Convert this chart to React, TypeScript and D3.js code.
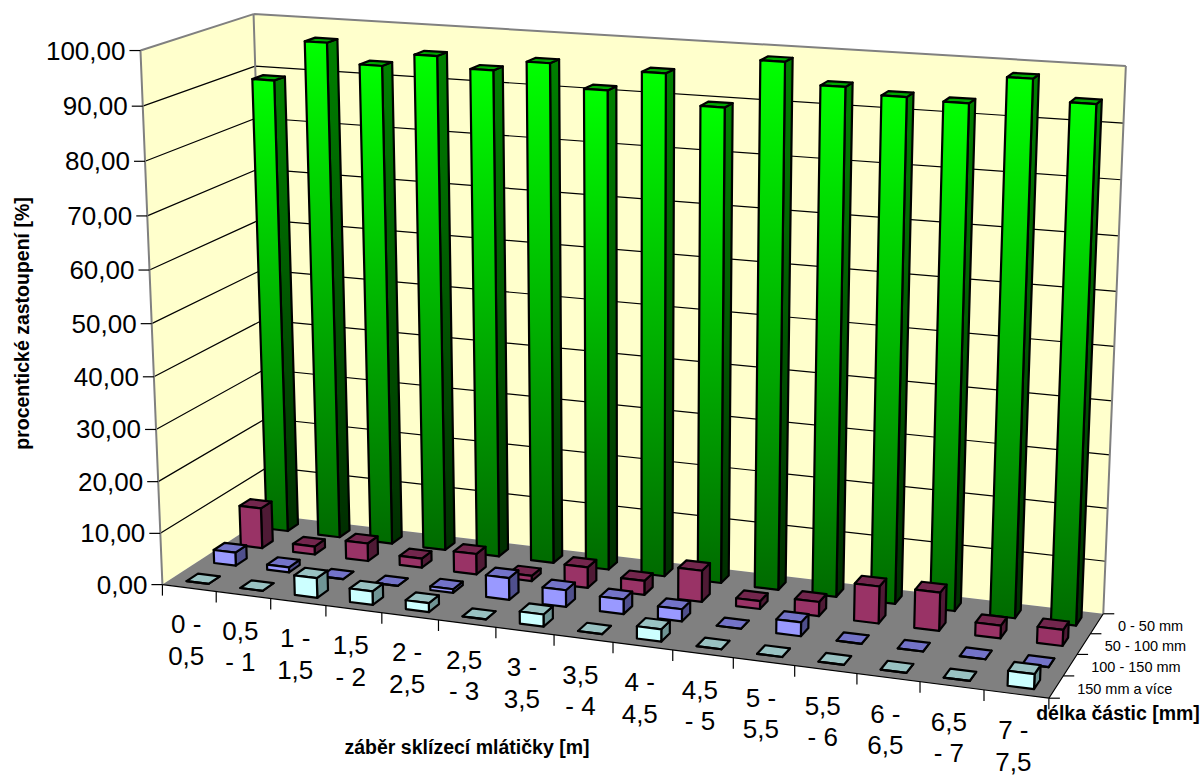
import React from "react";
import * as d3 from "d3";

// Swath sections along the harvester's cutting width, each label split on two lines
const categories: string[][] = [
  ["0 -", "0,5"], ["0,5", "- 1"], ["1 -", "1,5"], ["1,5", "- 2"], ["2 -", "2,5"],
  ["2,5", "- 3"], ["3 -", "3,5"], ["3,5", "- 4"], ["4 -", "4,5"], ["4,5", "- 5"],
  ["5 -", "5,5"], ["5,5", "- 6"], ["6 -", "6,5"], ["6,5", "- 7"], ["7 -", "7,5"],
];

// Particle-length classes, front row first
const seriesNames = ["150 mm a více", "100 - 150 mm", "50 - 100 mm", "0 - 50 mm"];

const over150 = [0, 0, 3.8, 2.6, 1.7, 0, 2.3, 0, 2.3, 0, 0, 0, 0, 0, 2.7];
const from100to150 = [2.6, 1, 0, 0, 0.7, 4.2, 3.2, 2.8, 2.3, 0, 2.6, 0, 0, 0, 0];
const from50to100 = [8, 1.6, 3.5, 1.8, 4, 1, 4, 2.7, 6, 1.5, 2.7, 7, 7.2, 2.4, 3];
const from0to50 = [89, 96.8, 93.1, 95.6, 93.6, 95.6, 91.3, 95.1, 89.6, 98.5, 94.7, 93.6, 93.2, 98.2, 94.5];

const rows = [over150, from100to150, from50to100, from0to50];

const valueTicks = d3.range(0, 101, 10);

const FONT = "'Liberation Sans', Arial, sans-serif";

type Vec3 = [number, number, number];
type Pt = [number, number];

// Reference points of the chart box: unit-cube corner -> page position
const boxAnchors: [Vec3, Pt][] = [
  [[0, 0, 0], [162, 585]],
  [[1, 0, 0], [1049, 698]],
  [[1, 1, 0], [1103, 614]],
  [[0, 1, 0], [270, 515]],
  [[0, 0, 1], [141, 51]],
  [[0, 1, 1], [253, 14]],
  [[1, 1, 1], [1126, 66]],
  [[0, 0, 0.5], [151.5, 323]],
];

// Least-squares fit of a 3x4 perspective camera with its last entry fixed to 1
function fitCamera(anchors: [Vec3, Pt][]): number[] {
  const n = 11;
  const ata = d3.range(n).map(() => new Array(n + 1).fill(0));
  const addRow = (r: number[], b: number) => {
    for (let i = 0; i < n; i++) {
      for (let j = 0; j < n; j++) ata[i][j] += r[i] * r[j];
      ata[i][n] += r[i] * b;
    }
  };
  for (const [[x, y, z], [px, py]] of anchors) {
    const u = px / 1000;
    const v = py / 1000;
    addRow([x, y, z, 1, 0, 0, 0, 0, -u * x, -u * y, -u * z], u);
    addRow([0, 0, 0, 0, x, y, z, 1, -v * x, -v * y, -v * z], v);
  }
  for (let c = 0; c < n; c++) {
    let pivot = c;
    for (let r = c + 1; r < n; r++) if (Math.abs(ata[r][c]) > Math.abs(ata[pivot][c])) pivot = r;
    [ata[c], ata[pivot]] = [ata[pivot], ata[c]];
    for (let r = 0; r < n; r++) {
      if (r === c) continue;
      const f = ata[r][c] / ata[c][c];
      for (let k = c; k <= n; k++) ata[r][k] -= f * ata[c][k];
    }
  }
  return d3.range(n).map((i) => ata[i][n] / ata[i][i]);
}

const cam = fitCamera(boxAnchors);

function toPage(x: number, y: number, z: number): Pt {
  const w = cam[8] * x + cam[9] * y + cam[10] * z + 1;
  return [
    (1000 * (cam[0] * x + cam[1] * y + cam[2] * z + cam[3])) / w,
    (1000 * (cam[4] * x + cam[5] * y + cam[6] * z + cam[7])) / w,
  ];
}

const xScale = d3.scaleLinear().domain([0, categories.length]).range([0, 1]);
const yScale = d3.scaleLinear().domain([0, seriesNames.length]).range([0, 1]);
const zScale = d3.scaleLinear().domain([0, 100]).range([0, 1]);

const project = (cat: number, row: number, value: number) =>
  toPage(xScale(cat), yScale(row), zScale(value));

const polygon = (pts: Pt[]) =>
  "M" + pts.map((p) => `${p[0].toFixed(2)},${p[1].toFixed(2)}`).join("L") + "Z";

const line = (a: Pt, b: Pt) => `M${a[0].toFixed(2)},${a[1].toFixed(2)}L${b[0].toFixed(2)},${b[1].toFixed(2)}`;

const palettes = [
  { front: "#CCFFFF", top: "#99C2C2", side: "#6F9494" },
  { front: "#9999FF", top: "#7373C8", side: "#4F4F8C" },
  { front: "#993366", top: "#73264D", side: "#4F1A35" },
  { front: "url(#greenFront)", top: "#00A800", side: "url(#greenSide)" },
];

const BAR_START = 0.295;
const BAR_END = 0.705;
const TICK = 11;

function Bar({ cat, row, value }: { cat: number; row: number; value: number }) {
  const x0 = cat + BAR_START;
  const x1 = cat + BAR_END;
  const y0 = row + BAR_START;
  const y1 = row + BAR_END;
  const c = palettes[row];
  const f00 = project(x0, y0, 0);
  const f10 = project(x1, y0, 0);
  const f01 = project(x0, y0, value);
  const f11 = project(x1, y0, value);
  const b10 = project(x1, y1, 0);
  const b01 = project(x0, y1, value);
  const b11 = project(x1, y1, value);
  const stroke = { stroke: "#000", strokeWidth: 2.2, strokeLinejoin: "round" as const };
  return (
    <g>
      <path d={polygon([f10, b10, b11, f11])} fill={c.side} {...stroke} />
      <path d={polygon([f01, f11, b11, b01])} fill={c.top} {...stroke} />
      <path d={polygon([f00, f10, f11, f01])} fill={c.front} {...stroke} />
    </g>
  );
}

export default function App() {
  const nCat = categories.length;
  const nRow = seriesNames.length;
  const frontL0 = project(0, 0, 0);
  const frontR0 = project(nCat, 0, 0);
  const backR0 = project(nCat, nRow, 0);
  const backL0 = project(0, nRow, 0);
  const frontL1 = project(0, 0, 100);
  const backL1 = project(0, nRow, 100);
  const backR1 = project(nCat, nRow, 100);

  return (
    <svg
      width={1203}
      height={776}
      viewBox="0 0 1203 776"
      style={{ position: "absolute", left: 0, top: 0, display: "block" }}
      fontFamily={FONT}
    >
      <defs>
        <linearGradient id="greenFront" x1="0" y1="0" x2="0" y2="1">
          <stop offset="0" stopColor="#00FF00" />
          <stop offset="1" stopColor="#006A00" />
        </linearGradient>
        <linearGradient id="greenSide" x1="0" y1="0" x2="0" y2="1">
          <stop offset="0" stopColor="#008000" />
          <stop offset="1" stopColor="#002E00" />
        </linearGradient>
      </defs>

      <rect width={1203} height={776} fill="#fff" />

      {/* Walls and floor */}
      <path d={polygon([frontL0, backL0, backL1, frontL1])} fill="#FFFFCC" />
      <path d={polygon([backL0, backR0, backR1, backL1])} fill="#FFFFCC" />
      <path d={polygon([frontL0, frontR0, backR0, backL0])} fill="#808080" />

      {/* Gridlines across both walls */}
      {valueTicks.filter((v) => v > 0 && v < 100).map((v) => (
        <path
          key={v}
          d={line(project(0, 0, v), project(0, nRow, v)) + line(project(0, nRow, v), project(nCat, nRow, v))}
          fill="none"
          stroke="#000"
          strokeWidth={1.2}
        />
      ))}

      {/* Wall outline */}
      <path
        d={
          line(frontL0, frontL1) +
          line(frontL1, backL1) +
          line(backL1, backR1) +
          line(backR1, backR0) +
          line(backL1, backL0)
        }
        fill="none"
        stroke="#808080"
        strokeWidth={2}
      />

      {/* Floor edges */}
      <path d={line(frontL0, frontR0) + line(frontR0, backR0)} fill="none" stroke="#000" strokeWidth={1.2} />

      {/* Value axis */}
      {valueTicks.map((v) => {
        const [px, py] = project(0, 0, v);
        return (
          <g key={v}>
            <path d={line([px - TICK, py], [px, py])} stroke="#000" strokeWidth={1.2} />
            <text x={px - TICK - 4} y={py} textAnchor="end" dominantBaseline="central" fontSize={26} fill="#000">
              {v.toFixed(2).replace(".", ",")}
            </text>
          </g>
        );
      })}

      {/* Category axis */}
      {d3.range(nCat + 1).map((i) => {
        const [px, py] = project(i, 0, 0);
        return <path key={i} d={line([px, py], [px, py + TICK])} stroke="#000" strokeWidth={1.2} />;
      })}
      {categories.map((lines, i) => {
        const [px, py] = project(i + 0.5, 0, 0);
        return lines.map((t, k) => (
          <text
            key={`${i}-${k}`}
            x={px - 3}
            y={py + 36 + k * 31.5}
            textAnchor="middle"
            dominantBaseline="central"
            fontSize={26}
            fill="#000"
          >
            {t}
          </text>
        ));
      })}

      {/* Depth axis */}
      {d3.range(nRow + 1).map((r) => {
        const [px, py] = project(nCat, r, 0);
        return <path key={r} d={line([px, py], [px + TICK, py])} stroke="#000" strokeWidth={1.2} />;
      })}
      {seriesNames.map((name, r) => {
        const [px, py] = project(nCat, r + 0.5, 0);
        return (
          <text key={name} x={px + 21} y={py + 2} dominantBaseline="central" fontSize={14.5} fill="#000">
            {name}
          </text>
        );
      })}

      {/* Bars, back row first so nearer ones overlap */}
      {[3, 2, 1, 0].map((row) =>
        rows[row].map((value, cat) => <Bar key={`${row}-${cat}`} cat={cat} row={row} value={value} />)
      )}

      {/* Axis titles */}
      <text
        transform="translate(22,323.5) rotate(-90)"
        textAnchor="middle"
        dominantBaseline="central"
        fontSize={19.5}
        fontWeight="bold"
        fill="#000"
      >
        procentické zastoupení [%]
      </text>
      <text x={467} y={747} textAnchor="middle" dominantBaseline="central" fontSize={19.5} fontWeight="bold" fill="#000">
        záběr sklízecí mlátičky [m]
      </text>
      <text x={1118} y={713} textAnchor="middle" dominantBaseline="central" fontSize={19.5} fontWeight="bold" fill="#000">
        délka částic [mm]
      </text>
    </svg>
  );
}
